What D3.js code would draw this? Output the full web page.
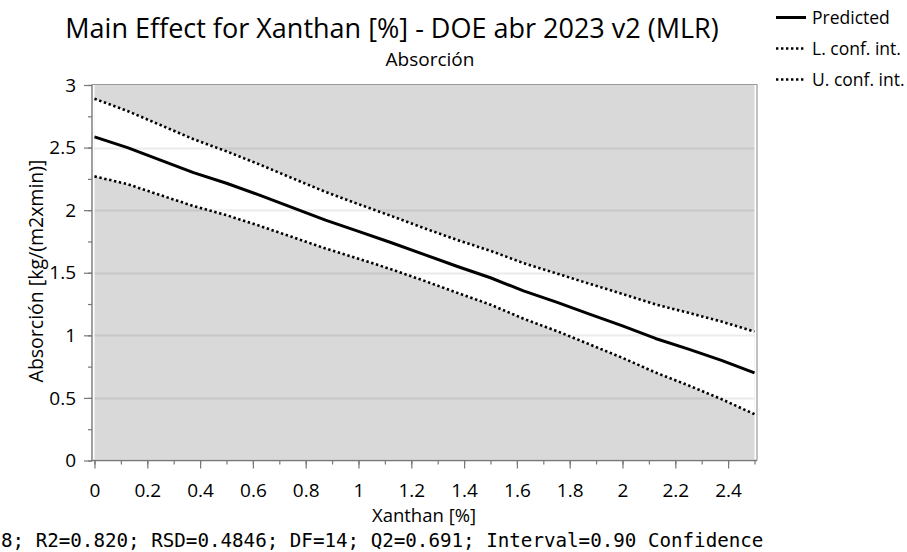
<!DOCTYPE html>
<html>
<head>
<meta charset="utf-8">
<script src="https://cdn.jsdelivr.net/npm/d3@7"></script>
<style>
  body { margin: 0; background: #fff; }
  svg { display: block; font-family: "Open Sans", "Noto Sans", sans-serif; }
</style>
</head>
<body>
<div id="chart"></div>
<script>
// values
var xanthan = [0, 0.125, 0.25, 0.375, 0.5, 0.625, 0.75, 0.875, 1, 1.125, 1.25,
               1.375, 1.5, 1.625, 1.75, 1.875, 2, 2.125, 2.25, 2.375, 2.5];
var predicted = [2.585, 2.50, 2.40, 2.30, 2.215, 2.12, 2.02, 1.92, 1.83, 1.74, 1.645,
                 1.55, 1.46, 1.355, 1.265, 1.17, 1.075, 0.975, 0.89, 0.80, 0.70];
var upperCI = [2.89, 2.792, 2.68, 2.567, 2.47, 2.365, 2.255, 2.146, 2.048, 1.953, 1.855,
               1.761, 1.675, 1.577, 1.495, 1.412, 1.33, 1.247, 1.18, 1.11, 1.03];
var lowerCI = [2.27, 2.208, 2.12, 2.033, 1.96, 1.875, 1.785, 1.694, 1.612, 1.527, 1.435,
               1.339, 1.245, 1.133, 1.035, 0.928, 0.82, 0.703, 0.60, 0.49, 0.37];
var xTicks = [0, 0.2, 0.4, 0.6, 0.8, 1, 1.2, 1.4, 1.6, 1.8, 2, 2.2, 2.4];
var yTicks = [0, 0.5, 1, 1.5, 2, 2.5, 3];
var legendItems = ["Predicted", "L. conf. int.", "U. conf. int."];
var footer = "8; R2=0.820; RSD=0.4846; DF=14; Q2=0.691; Interval=0.90 Confidence";

var width = 907, height = 552;
var frame = {left: 92, right: 757, top: 84.5, bottom: 460.5};

var svg = d3.select("#chart").append("svg")
    .attr("width", width)
    .attr("height", height);

var x = d3.scaleLinear().domain([0, 2.5]).range([94.5, 754.5]);
var y = d3.scaleLinear().domain([0, 3]).range([460.5, 85]);

var rows = xanthan.map(function (d, i) {
    return {x: d, p: predicted[i], lo: lowerCI[i], hi: upperCI[i]};
});

// grey plot background
svg.append("rect")
    .attr("x", x(0)).attr("y", y(3))
    .attr("width", x(2.5) - x(0))
    .attr("height", y(0) - y(3) - 1)
    .attr("fill", "#d9d9d9");

// white band between confidence limits
svg.append("path")
    .datum(rows)
    .attr("fill", "#fff")
    .attr("d", d3.area()
        .x(function (d) { return x(d.x); })
        .y0(function (d) { return y(d.lo); })
        .y1(function (d) { return y(d.hi); }));

// horizontal grid
svg.append("g").selectAll("line")
    .data(yTicks.filter(function (d) { return d > 0 && d < 3; }))
    .enter().append("line")
    .attr("x1", x(0)).attr("x2", x(2.5))
    .attr("y1", function (d) { return Math.round(y(d)) + 0.5; })
    .attr("y2", function (d) { return Math.round(y(d)) + 0.5; })
    .attr("stroke", "rgba(0,0,0,0.08)")
    .attr("stroke-width", 2);

// frame top / right
svg.append("path")
    .attr("d", "M" + frame.left + "," + frame.top + "H" + frame.right + "V" + frame.bottom)
    .attr("fill", "none")
    .attr("stroke", "#9a9a9a")
    .attr("stroke-width", 1.2);

// lines
var line = function (key) {
    return d3.line()
        .x(function (d) { return x(d.x); })
        .y(function (d) { return y(d[key]); });
};
svg.append("path").datum(rows)
    .attr("fill", "none").attr("stroke", "#000")
    .attr("stroke-width", 2.6).attr("stroke-dasharray", "2.4,2.6")
    .attr("d", line("hi"));
svg.append("path").datum(rows)
    .attr("fill", "none").attr("stroke", "#000")
    .attr("stroke-width", 2.6).attr("stroke-dasharray", "2.4,2.6")
    .attr("d", line("lo"));
svg.append("path").datum(rows)
    .attr("fill", "none").attr("stroke", "#000")
    .attr("stroke-width", 3)
    .attr("stroke-linejoin", "round")
    .attr("d", line("p"));

// axes
var xAxisMinor = d3.axisBottom(x).tickValues(d3.range(0, 26).map(function (i) { return i / 10; }))
    .tickSize(4).tickFormat("");
var xAxis = d3.axisBottom(x).tickValues(xTicks).tickSize(8).tickPadding(15)
    .tickFormat(function (d) { return d3.format("")(d); });
var yAxisMinor = d3.axisLeft(y).tickValues(d3.range(0, 13).map(function (i) { return i / 4; }))
    .tickSize(4).tickFormat("");
var yAxis = d3.axisLeft(y).tickValues(yTicks).tickSize(8).tickPadding(8)
    .tickFormat(function (d) { return d3.format("")(d); });

function styleAxis(g) {
    g.select(".domain").remove();
    g.selectAll("line").attr("stroke", "#777").attr("stroke-width", 1.2);
    g.selectAll("text").attr("fill", "#000").style("font-size", "19px")
        .style("font-family", "'Open Sans', sans-serif");
}

var xg = svg.append("g").attr("transform", "translate(0," + frame.bottom + ")");
xg.append("g").call(xAxisMinor).call(styleAxis);
xg.append("g").call(xAxis).call(styleAxis);
xg.append("line").attr("x1", frame.left).attr("x2", frame.right)
    .attr("stroke", "#777").attr("stroke-width", 1.4);

var yg = svg.append("g").attr("transform", "translate(" + frame.left + ",0)");
yg.append("g").call(yAxisMinor).call(styleAxis);
yg.append("g").call(yAxis).call(styleAxis);
yg.append("line").attr("y1", frame.top).attr("y2", frame.bottom)
    .attr("stroke", "#777").attr("stroke-width", 1.4);

// titles
svg.append("text")
    .attr("x", 392).attr("y", 38)
    .attr("text-anchor", "middle")
    .style("font-size", "27px").attr("fill", "#000")
    .text("Main Effect for Xanthan [%] - DOE abr 2023 v2 (MLR)");
svg.append("text")
    .attr("x", 430).attr("y", 66)
    .attr("text-anchor", "middle")
    .style("font-size", "19px").attr("fill", "#000")
    .text("Absorción");
svg.append("text")
    .attr("x", 424).attr("y", 522)
    .attr("text-anchor", "middle")
    .style("font-size", "18.5px").attr("fill", "#000")
    .text("Xanthan [%]");
svg.append("text")
    .attr("transform", "translate(43,271) rotate(-90)")
    .attr("text-anchor", "middle")
    .style("font-size", "19.5px").attr("fill", "#000")
    .text("Absorción [kg/(m2xmin)]");

// footer statistics
svg.append("text")
    .attr("x", 1).attr("y", 547)
    .style("font-family", "'DejaVu Sans Mono', monospace")
    .style("font-size", "19.2px").attr("fill", "#000")
    .text(footer);

// legend
var legend = svg.append("g").attr("transform", "translate(776,0)");
legendItems.forEach(function (name, i) {
    var ly = 17.5 + i * 31;
    legend.append("line")
        .attr("x1", 0).attr("x2", 30)
        .attr("y1", ly).attr("y2", ly)
        .attr("stroke", "#000")
        .attr("stroke-width", i === 0 ? 3 : 2.6)
        .attr("stroke-dasharray", i === 0 ? null : "2.4,2.6");
    legend.append("text")
        .attr("x", 36).attr("y", ly + 6.5)
        .style("font-size", "17.5px").attr("fill", "#000")
        .text(name);
});
</script>
</body>
</html>
